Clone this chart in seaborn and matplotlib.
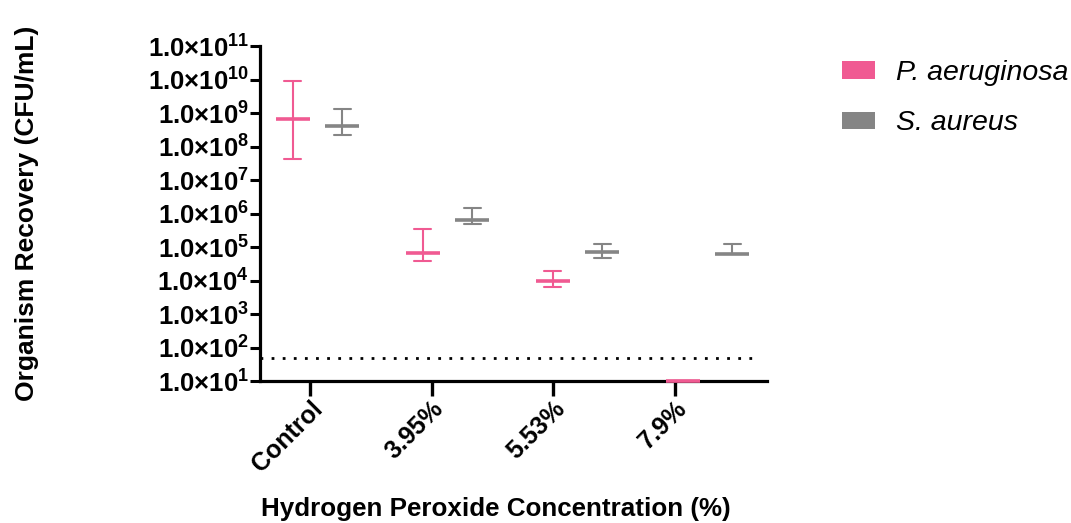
import numpy as np
import pandas as pd
import matplotlib
matplotlib.use("Agg")
import matplotlib.pyplot as plt
from matplotlib.patches import Patch
from matplotlib.ticker import NullLocator
import seaborn as sns

# ---- data -------------------------------------------------------------
concentrations = ["Control", "3.95%", "5.53%", "7.9%"]
organisms = ["P. aeruginosa", "S. aureus"]

# Recovered organisms (CFU/mL): central value and lower / upper error limits
pa_center = [6.6e8, 6.5e4, 1.0e4, 1.0e1]
pa_lower = [4.2e7, 3.7e4, 6.4e3, 1.0e1]
pa_upper = [9.1e9, 3.5e5, 1.9e4, 1.0e1]

sa_center = [4.2e8, 6.5e5, 7.2e4, 6.3e4]
sa_lower = [2.2e8, 5.0e5, 4.8e4, 6.3e4]
sa_upper = [1.3e9, 1.5e6, 1.26e5, 1.23e5]

detection_limit = 50
ytick_exponents = list(range(1, 12))

colors = {"P. aeruginosa": "#F05A92", "S. aureus": "#858585"}

# ---- long-form table: each group holds (lower, center, upper) ----------
rows = []
for org, lo, ce, hi in [("P. aeruginosa", pa_lower, pa_center, pa_upper),
                        ("S. aureus", sa_lower, sa_center, sa_upper)]:
    for conc, a, b, c in zip(concentrations, lo, ce, hi):
        for v in (a, b, c):
            rows.append({"Concentration": conc, "Organism": org, "CFU": v})
df = pd.DataFrame(rows)

# ---- style -------------------------------------------------------------
sns.set_theme(style="ticks")
plt.rcParams["font.family"] = ["Liberation Sans", "DejaVu Sans"]
plt.rcParams["mathtext.default"] = "regular"
for key in ("text.color", "axes.labelcolor", "xtick.color", "ytick.color"):
    plt.rcParams[key] = "black"

fig = plt.figure(figsize=(10.71, 5.23), dpi=100)
ax = fig.add_axes([0.2428, 0.2715, 0.4734, 0.6405])

sns.pointplot(
    data=df, x="Concentration", y="CFU", hue="Organism",
    order=concentrations, hue_order=organisms, palette=colors,
    estimator="median", errorbar=lambda v: (v.min(), v.max()),
    dodge=0.38, linestyle="none", marker="_", markersize=24,
    markeredgewidth=2.6, capsize=0.13, err_kws={"linewidth": 1.5},
    log_scale=True, legend=False, clip_on=False, zorder=3, ax=ax,
)

ax.set_ylim(1e1, 1e11)
ax.set_xlim(-0.442, 3.458)

# limit of detection
ax.hlines(detection_limit, -0.442, 3.365, colors="black",
          linestyles=(0, (1, 3)), linewidth=2.0)

# axes, ticks, labels
ax.set_yticks([10.0 ** e for e in ytick_exponents])
ax.set_yticklabels([f"1.0×10$^{{{e}}}$" for e in ytick_exponents],
                   fontsize=18.5, fontweight="bold")
ax.yaxis.set_minor_locator(NullLocator())

tick_pos = [i * 0.936 - 0.058 for i in range(len(concentrations))]
ax.set_xticks(tick_pos)
ax.set_xticklabels(concentrations, fontsize=18, fontweight="bold",
                   rotation=45, ha="right", va="top",
                   rotation_mode="anchor")

ax.tick_params(axis="y", length=7, width=2.2, pad=1)
ax.tick_params(axis="x", length=11, width=2.4, pad=0)
for side in ("left", "bottom"):
    ax.spines[side].set_linewidth(2.3)
    ax.spines[side].set_color("black")
sns.despine(ax=ax)

ax.set_xlabel("Hydrogen Peroxide Concentration (%)", fontsize=18.7,
              fontweight="bold")
ax.xaxis.set_label_coords(0.465, -0.345)
ax.set_ylabel("Organism Recovery (CFU/mL)", fontsize=19,
              fontweight="bold")
ax.yaxis.set_label_coords(-0.435, 0.5)

handles = [Patch(facecolor=colors[o], edgecolor="none") for o in organisms]
fig.legend(handles, organisms, loc="upper left",
           bbox_to_anchor=(0.786, 0.885), frameon=False,
           prop={"size": 20.5, "style": "italic"},
           handlelength=1.15, handleheight=0.55, handletextpad=0.75,
           labelspacing=0.85, borderpad=0, borderaxespad=0)

fig.savefig("out.png", dpi=100)
